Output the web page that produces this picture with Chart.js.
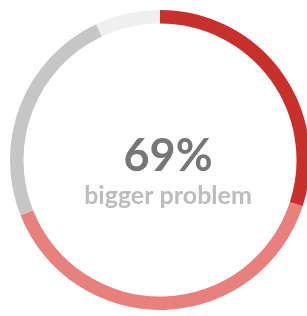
<!DOCTYPE html>
<html>
<head>
<meta charset="utf-8">
<script src="https://cdn.jsdelivr.net/npm/chart.js@4"></script>
<style>
  html, body { margin: 0; padding: 0; background: #fff; overflow: hidden; }
  #wrap { position: absolute; left: 0; top: 0; width: 320px; height: 320px; }
</style>
</head>
<body>
<div id="wrap"><canvas id="ring"></canvas></div>
<script>
const kategori = ['Much bigger', 'Somewhat bigger', 'About the same', 'Smaller'];
const nilai = [30, 39, 24, 7];
const warna = ['#c8302b', '#e8807d', '#c6c6c6', '#efefef'];
const teksUtama = '69%';
const teksBawah = 'bigger problem';

const tulisanTengah = {
    id: 'tulisanTengah',
    afterDraw(chart) {
        const meta = chart.getDatasetMeta(0).data[0];
        const cx = meta.x + 8;
        const cy = meta.y;
        const ctx = chart.ctx;
        ctx.save();
        ctx.textAlign = 'center';
        ctx.textBaseline = 'alphabetic';
        ctx.fillStyle = '#777777';
        ctx.font = 'bold 45px Lato';
        ctx.fillText(teksUtama, cx, cy + 11);
        ctx.fillStyle = '#bcbcbc';
        ctx.font = 'bold 25px Lato';
        ctx.fillText(teksBawah, cx, cy + 44);
        ctx.restore();
    }
};

new Chart(document.getElementById('ring'), {
    type: 'doughnut',
    data: {
        labels: kategori,
        datasets: [{
            data: nilai,
            backgroundColor: warna,
            borderWidth: 0,
            hoverOffset: 0
        }]
    },
    options: {
        responsive: true,
        maintainAspectRatio: false,
        animation: false,
        cutout: '91%',
        layout: { padding: 10 },
        plugins: {
            legend: { display: false },
            tooltip: { enabled: false }
        }
    },
    plugins: [tulisanTengah]
});
</script>
</body>
</html>
